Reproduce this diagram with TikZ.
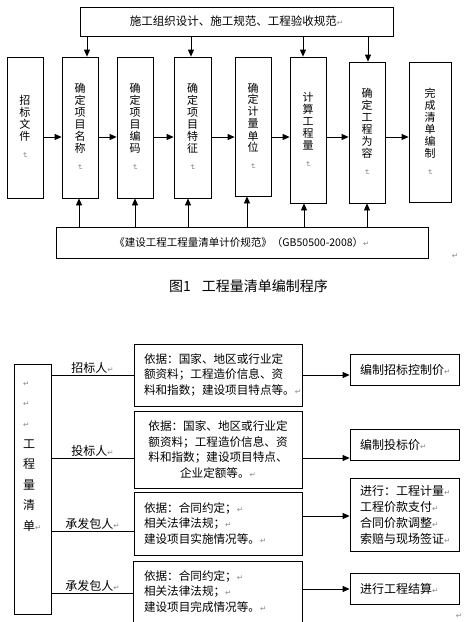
\documentclass[tikz,border=0pt]{standalone}
\usepackage{fontspec}
\usepackage{graphicx}
\setmainfont{Noto Sans CJK SC}
\newfontfamily\dvfont{DejaVu Sans}
\usetikzlibrary{arrows.meta}
\definecolor{mkgray}{RGB}{135,135,135}
\newcommand\rmk{{\dvfont\fontsize{7.5}{8}\selectfont\textcolor{mkgray}{↵}}}
\newcommand\vmk{\rotatebox{-90}{\rmk}}
\begin{document}
\begin{tikzpicture}[x=1pt,y=-1pt,
 box/.style={draw,line width=0.8pt,inner sep=0pt},
 arr/.style={line width=0.8pt,-{Triangle[length=7pt,width=6pt]}},
 ln/.style={line width=0.8pt},
 vt/.style={box,align=center,font=\fontsize{11}{12}\selectfont},
 mid/.style={box,minimum width=168pt,text width=148pt,inner xsep=10pt,inner ysep=0pt,font=\fontsize{11.6}{15.7}\selectfont},
 rt/.style={box,minimum width=109pt,text width=89pt,inner xsep=10pt,inner ysep=0pt,align=left,font=\fontsize{12}{16}\selectfont},
 lab/.style={inner sep=1pt,font=\fontsize{12}{14}\selectfont},
 mk/.style={inner sep=0pt}
]
\useasboundingbox (0,0) rectangle (464,622);
\fill[white] (0,0) rectangle (464,622);

% ---------- figure 1 ----------
\node[box,minimum width=313pt,minimum height=29pt,font=\fontsize{11.5}{13}\selectfont] (T) at (236.5,21.5) {施工组织设计、施工规范、工程验收规范\rmk};

\node[vt,minimum width=36pt,minimum height=141pt] (b1) at (25,127.5) {招\\标\\文\\件\\\vmk};
\node[vt,minimum width=36pt,minimum height=141pt] (b2) at (80,127.5) {确\\定\\项\\目\\名\\称\\\vmk};
\node[vt,minimum width=36pt,minimum height=141pt] (b3) at (135,127.5) {确\\定\\项\\目\\编\\码\\\vmk};
\node[vt,minimum width=37pt,minimum height=141pt] (b4) at (192.5,127.5) {确\\定\\项\\目\\特\\征\\\vmk};
\node[vt,minimum width=36pt,minimum height=139pt] (b5) at (253,126.5) {确\\定\\计\\量\\单\\位\\\vmk};
\node[vt,minimum width=36pt,minimum height=146pt] (b6) at (308,130) {计\\算\\工\\程\\量\\\vmk};
\node[vt,minimum width=36pt,minimum height=141pt] (b7) at (367,132.5) {确\\定\\工\\程\\为\\容\\\vmk};
\node[vt,minimum width=42pt,minimum height=140pt] (b8) at (430,132) {完\\成\\清\\单\\编\\制\\\vmk};

\node[box,minimum width=372pt,minimum height=31pt,font=\fontsize{10.5}{12}\selectfont] (R) at (242,242.5) {《建设工程工程量清单计价规范》（GB50500-2008）\rmk};

\coordinate (hy) at (0,137);
\foreach \a/\b in {b1/b2,b2/b3,b3/b4,b4/b5,b5/b6,b6/b7,b7/b8}
  \draw[arr] (\a.east |- hy) -- (\b.west |- hy);
\foreach \x/\b in {87/b2,191/b4,303/b6,368/b7}
  \draw[arr] (T.south -| \x,0) -- (\b.north -| \x,0);
\foreach \x/\b in {79/b2,135/b3,188/b4,247/b5,304/b6,367/b7}
  \draw[arr] (R.north -| \x,0) -- (\b.south -| \x,0);

\node[anchor=west,inner sep=0pt,font=\fontsize{14}{16}\selectfont] (cap) at (169,286) {图1\hspace{11pt}工程量清单编制程序};
\node[mk] (m1) at (455,256) {\rmk};

% ---------- figure 2 ----------
\node[box,minimum width=37pt,minimum height=250pt] (L) at (32.5,489) {};
\node[anchor=north west,inner sep=0pt,align=left,font=\fontsize{12}{20.6}\selectfont] (Lt) at (23,371.6) {\strut\rmk\\\strut\rmk\\\strut\rmk\\\strut 工\\\strut 程\\\strut 量\\\strut 清\\\strut 单\rmk};

\node[mid,minimum height=62pt,align=left] (A) at (218,375) {依据：国家、地区或行业定\\额资料；工程造价信息、资\\料和指数；建设项目特点等。\rmk};
\node[mid,minimum height=77pt,align=center] (B) at (218,449.5) {依据：国家、地区或行业定\\额资料；工程造价信息、资\\料和指数；建设项目特点、\\企业定额等。\rmk};
\node[mid,minimum height=63pt,align=left] (C) at (218,523.5) {依据：合同约定；\rmk\\相关法律法规；\rmk\\建设项目实施情况等。\rmk};
\node[mid,draw=none,minimum height=0pt,align=left] (D) at (218,591.5) {依据：合同约定；\rmk\\相关法律法规；\rmk\\建设项目完成情况等。\rmk};
\draw[ln] (D.west |- 0,622) |- (D.east |- 0,561) -- (D.east |- 0,622);

\node[rt,minimum height=31pt] (R1) at (404.5,369.5) {编制招标控制价\rmk};
\node[rt,minimum height=31pt] (R2) at (404.5,444.5) {编制投标价\rmk};
\node[rt,minimum height=73pt] (R3) at (404.5,514.5) {进行：工程计量\rmk\\工程价款支付\rmk\\合同价款调整\rmk\\索赔与现场签证\rmk};
\node[rt,minimum height=31pt] (R4) at (404.5,588.5) {进行工程结算\rmk};

\draw[ln] (L.east |- 0,375) -- node[lab,above] (l1) {招标人\rmk} (A.west |- 0,375);
\draw[ln] (L.east |- 0,458) -- node[lab,above] (l2) {投标人\rmk} (B.west |- 0,458);
\draw[ln] (L.east |- 0,531) -- node[lab,above] (l3) {承发包人\rmk} (C.west |- 0,531);
\draw[ln] (L.east |- 0,593) -- node[lab,above] (l4) {承发包人\rmk} (D.west |- 0,593);

\draw[arr] (A.east |- 0,375) -- (R1.west |- 0,375);
\draw[arr] (B.east |- 0,458) -- (R2.west |- 0,458);
\draw[arr] (C.east |- 0,516) -- (R3.west |- 0,516);
\draw[arr] (D.east |- 0,589) -- (R4.west |- 0,589);

\node[mk] (m2) at (459,616) {\rmk};
\end{tikzpicture}
\end{document}
